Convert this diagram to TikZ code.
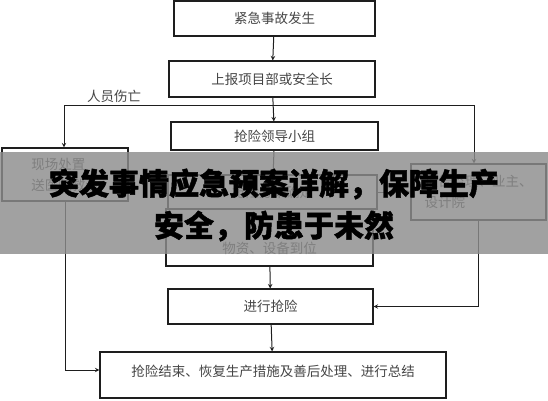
\documentclass[tikz,border=0pt]{standalone}
\usepackage{fontspec}
\usepackage{tikz}
\newfontfamily\cjk{Noto Sans CJK SC}
\newfontfamily\cjkheavy[BoldFeatures={FakeBold=1.6}]{Noto Sans CJK SC}
\definecolor{txtgray}{HTML}{454545}
\definecolor{linegray}{HTML}{1E1E1E}

\begin{document}
\begin{tikzpicture}[x=1pt,y=-1pt,
                    box/.style={draw=linegray,line width=1.1pt,rectangle,inner sep=0pt,
                                font=\cjk\fontsize{13.5}{21}\selectfont,text=txtgray},
                    txt/.style={font=\cjk\fontsize{13.5}{21}\selectfont,text=txtgray,inner sep=0pt},
                    link/.style={->,>=stealth,line width=1pt,draw=linegray}]
                    \useasboundingbox (0,0) rectangle (548,400);

                    \node[box,minimum width=201,minimum height=35] at (274.5,18.5) (alarm) {紧急事故发生};
                    \node[box,minimum width=206,minimum height=36] at (272,79) (report) {上报项目部或安全长};
                    \node[box,minimum width=207,minimum height=28] at (274.5,136) (lead) {抢险领导小组};
                    \node[box,minimum width=126,minimum height=53,align=left] at (65,174.5) (field) {现场处置\\送医院救治};
                    \node[box,minimum width=135,minimum height=56,align=left] at (478.5,192) (notify) {报告监理、业主、\\设计院};
                    \node[box,minimum width=209,minimum height=34] at (272.5,192) (plan) {抢险方案确定};
                    \node[box,minimum width=207,minimum height=57] at (269.5,237.5) (supply) {};
                    \node[txt] at (269.5,248) (supplytxt) {物资、设备到位};
                    \node[box,minimum width=205,minimum height=35] at (270.5,306.5) (act) {进行抢险};
                    \node[box,minimum width=346,minimum height=46] at (273,375) (finish) {};
                    \node[txt] at (273,371) (finishtxt) {抢险结束、恢复生产措施及善后处理、进行总结};

                    \coordinate (bl) at (64,105);
                    \coordinate (br) at (474,105);
                    \node[txt,anchor=south] at (114,103) (hurt) {人员伤亡};

                    \draw[link] (alarm) -- (report);
                    \draw[link] (report) -- (lead);
                    \draw[line width=1pt,draw=linegray] (bl) -- (br);
                    \draw[link] (bl) -- (bl |- field.north);
                    \draw[link] (br) -- (br |- notify.north);
                    \draw[link] (lead) -- (plan);
                    \draw[link] (plan) -- (notify);
                    \draw[link] (supply) -- (act);
                    \draw[link] (act) -- (finish);
                    \draw[link] (notify.south) |- (act.east);
                    \draw[link] (field.south) |- ([yshift=5]finish.west);

                    % banner
                    \fill[black!45,fill opacity=0.82] (0,152) rectangle (548,254);
                    \node[font=\cjkheavy\bfseries\fontsize{30}{42}\selectfont,align=center,inner sep=0pt] at (274,205) (title)
                         {突发事情应急预案详解，保障生产\\安全，防患于未然};
                \end{tikzpicture}
\end{document}
